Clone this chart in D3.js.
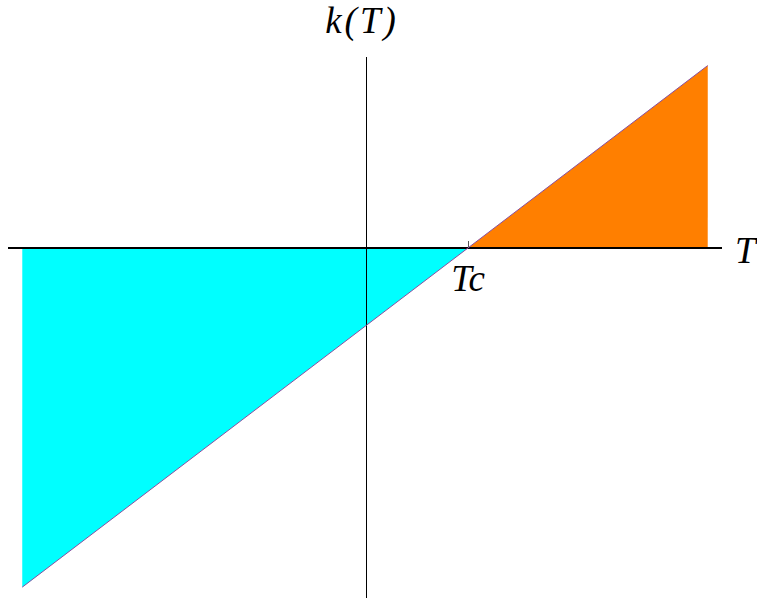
<!DOCTYPE html>
<html>
<head>
<meta charset="utf-8">
<script src="https://cdn.jsdelivr.net/npm/d3@7"></script>
<style>
  body { margin: 0; background: #fff; }
  text { font-family: "Liberation Serif", "DejaVu Serif", serif; font-style: italic; }
</style>
</head>
<body>
<div id="chart"></div>
<script>
// k(T) = T - Tc, sampled at the ends of the plot and at Tc
const tValues = [-3.37, 1, 3.35];
const kValues = [-4.37, 0, 2.35];
const tc = 1;
const tDomain = [-3.51, 3.49];
const kDomain = [-4.51, 2.46];

const width = 757, height = 600;
const svg = d3.select("#chart").append("svg")
    .attr("width", width)
    .attr("height", height);

const x = d3.scaleLinear().domain(tDomain).range([8, 722]);
const y = d3.scaleLinear().domain(kDomain).range([598, 57]);

const points = tValues.map((t, i) => ({ t: t, k: kValues[i] }));
const below = points.filter(d => d.t <= tc);
const above = points.filter(d => d.t >= tc);

const area = d3.area()
    .x(d => x(d.t))
    .y0(y(0))
    .y1(d => y(d.k));

svg.append("path")
    .datum(below)
    .attr("d", area)
    .attr("fill", "#00ffff");

svg.append("path")
    .datum(above)
    .attr("d", area)
    .attr("fill", "#ff7f00");

// axes through the origin
svg.append("line")
    .attr("x1", x(tDomain[0])).attr("x2", x(tDomain[1]))
    .attr("y1", y(0)).attr("y2", y(0))
    .attr("stroke", "#000").attr("stroke-width", 1.3)
    .attr("shape-rendering", "crispEdges");

svg.append("line")
    .attr("x1", x(0)).attr("x2", x(0))
    .attr("y1", y(kDomain[0])).attr("y2", y(kDomain[1]))
    .attr("stroke", "#000").attr("stroke-width", 1)
    .attr("shape-rendering", "crispEdges");

// tick at Tc
svg.append("line")
    .attr("x1", x(tc)).attr("x2", x(tc))
    .attr("y1", y(0)).attr("y2", y(0) - 7)
    .attr("stroke", "#555").attr("stroke-width", 1)
    .attr("shape-rendering", "crispEdges");

svg.append("path")
    .datum(points)
    .attr("d", d3.line().x(d => x(d.t)).y(d => y(d.k)))
    .attr("fill", "none")
    .attr("stroke", "#8a4fa0")
    .attr("stroke-width", 1);

svg.append("text")
    .attr("x", x(tc))
    .attr("y", 291)
    .attr("text-anchor", "middle")
    .attr("font-size", 37)
    .text("Tc");

svg.append("text")
    .attr("x", 735)
    .attr("y", 263)
    .attr("font-size", 37)
    .text("T");

svg.append("text")
    .attr("x", 362)
    .attr("y", 33)
    .attr("text-anchor", "middle")
    .attr("font-size", 37)
    .attr("letter-spacing", 3)
    .text("k(T)");
</script>
</body>
</html>
